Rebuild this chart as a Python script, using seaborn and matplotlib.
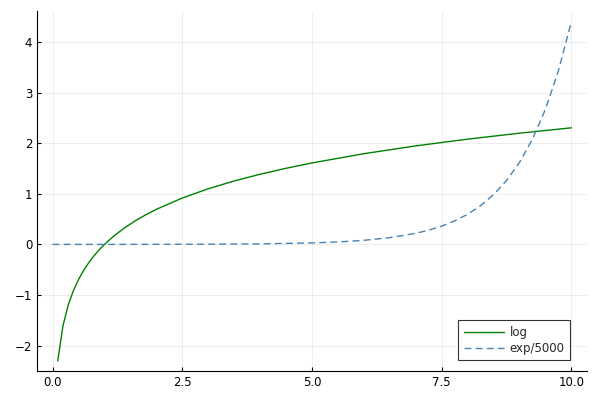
import matplotlib
matplotlib.use("Agg")
import matplotlib.pyplot as plt
import seaborn as sns
import pandas as pd

# log series
log_x = [0.1, 0.2, 0.3, 0.4, 0.5, 0.6, 0.7, 0.8, 0.9, 1.0, 1.2, 1.4, 1.6, 1.8, 2.0, 2.5,
         3.0, 3.5, 4.0, 4.5, 5.0, 6.0, 7.0, 8.0, 9.0, 10.0]
log_y = [-2.303, -1.609, -1.204, -0.916, -0.693, -0.511, -0.357, -0.223, -0.105, 0.0,
         0.182, 0.336, 0.470, 0.588, 0.693, 0.916, 1.099, 1.253, 1.386, 1.504, 1.609,
         1.792, 1.946, 2.079, 2.197, 2.303]

# exp/5000 series
exp_x = [0.0, 1.0, 2.0, 3.0, 4.0, 5.0, 5.5, 6.0, 6.5, 7.0, 7.25, 7.5, 7.75, 8.0, 8.25,
         8.5, 8.75, 9.0, 9.25, 9.5, 9.75, 10.0]
exp_y = [0.0002, 0.0005, 0.0015, 0.0040, 0.0109, 0.0297, 0.0489, 0.0807, 0.133, 0.219,
         0.282, 0.362, 0.464, 0.596, 0.766, 0.983, 1.262, 1.621, 2.081, 2.672, 3.431, 4.405]

labels = ["log", "exp/5000"]
xticks = [0.0, 2.5, 5.0, 7.5, 10.0]
yticks = [-2, -1, 0, 1, 2, 3, 4]

sns.set_style("white")
plt.rcParams['font.family'] = ['DejaVu Sans']

fig = plt.figure(figsize=(6, 4), dpi=100)
ax = fig.add_axes([37/600, 29/400, 550/600, 360/400])

sns.lineplot(x=log_x, y=log_y, ax=ax, color="#008000", lw=1.0, label=labels[0])
sns.lineplot(x=exp_x, y=exp_y, ax=ax, color="#4682B4", lw=1.0, linestyle=(0, (5, 3)),
             label=labels[1])

ax.set_xlim(-0.3, 10.3)
ax.set_ylim(-2.5, 4.61)
ax.set_xticks(xticks)
ax.set_xticklabels([f"{t:.1f}" for t in xticks])
ax.set_yticks(yticks)
ax.set_yticklabels([str(t).replace("-", "\u2212") for t in yticks])
ax.grid(True, color="#000000", alpha=0.08, lw=0.6)
for s in ["top", "right"]:
    ax.spines[s].set_visible(False)
for s in ["left", "bottom"]:
    ax.spines[s].set_color("#000000")
    ax.spines[s].set_linewidth(0.8)
ax.tick_params(direction="in", length=3, width=0.8, labelsize=8.5, colors="#000000",
               left=True, bottom=True)

leg = ax.legend(loc="lower right", fontsize=8.5, frameon=True, fancybox=False,
                bbox_to_anchor=((570 - 37) / 550, (371 - 360) / 360), borderaxespad=0,
                handlelength=3.4, labelspacing=0.25, borderpad=0.45, handletextpad=0.5)
leg.get_frame().set_edgecolor("#000000")
leg.get_frame().set_linewidth(0.8)

fig.savefig("out.png", dpi=100)
